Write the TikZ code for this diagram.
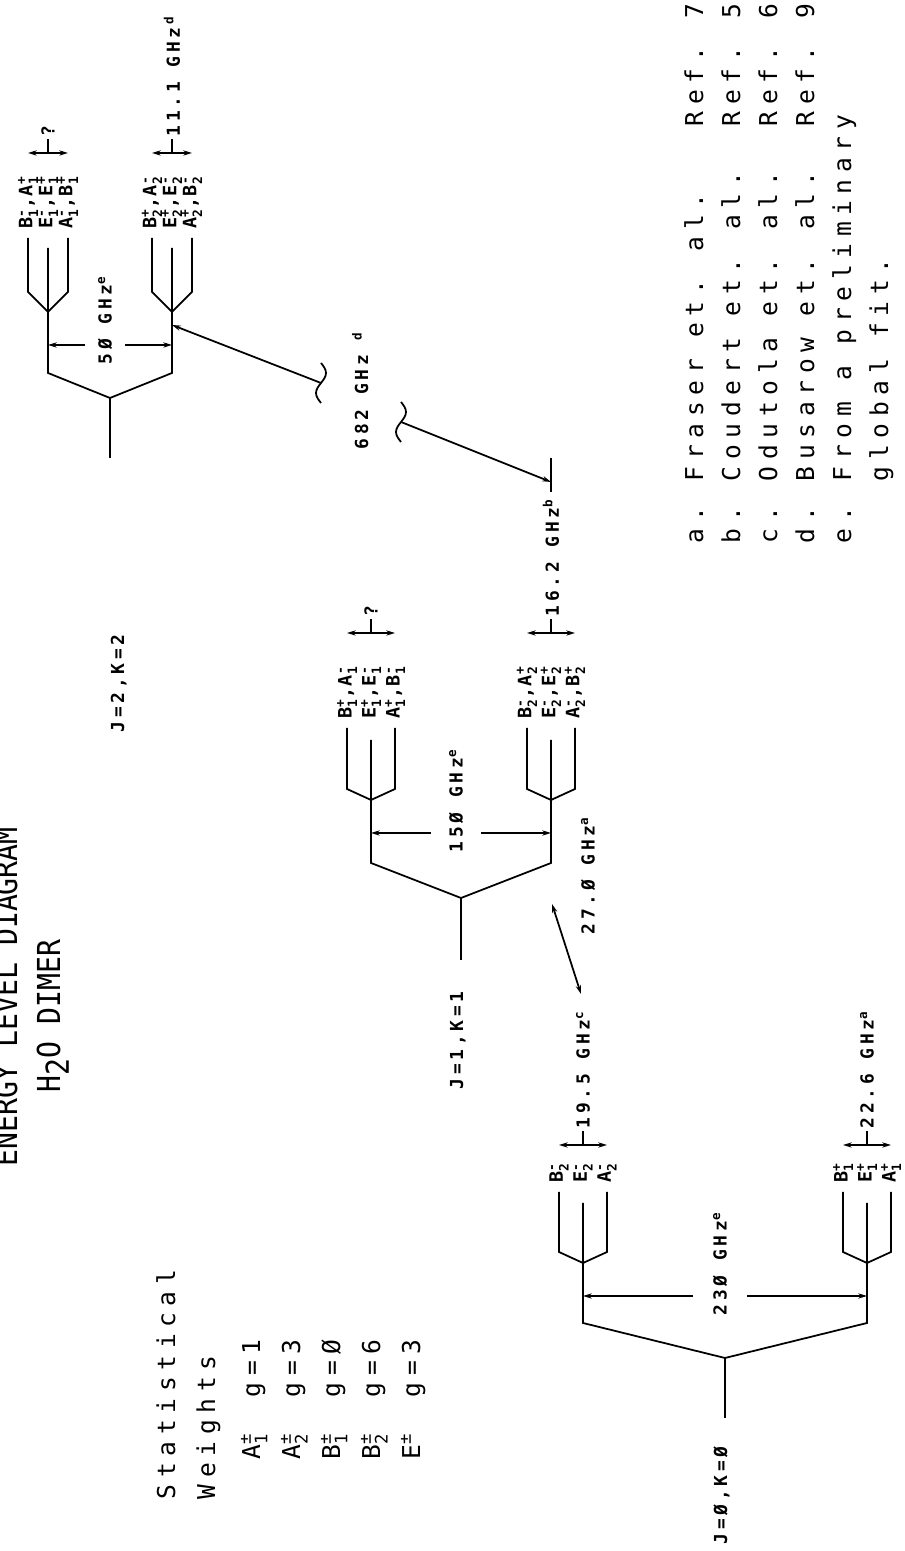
\documentclass[tikz,border=0pt]{standalone}
\usepackage{fontspec}
\usepackage{amsmath}
\usetikzlibrary{arrows.meta}
\newfontfamily\plotfont{DejaVu Sans Mono}
\newcommand\titlefont{\plotfont\fontsize{18}{20}\selectfont}
\newcommand\legfont{\plotfont\fontsize{14}{16}\selectfont\addfontfeatures{LetterSpace=27}}
\newcommand\lvfont{\plotfont\bfseries\fontsize{10.2}{12}\selectfont\addfontfeatures{LetterSpace=21}}
\newcommand\stfont{\plotfont\bfseries\fontsize{10.5}{12}\selectfont\addfontfeatures{LetterSpace=8}}
\newcommand\sy[3]{#1$^{\text{#2}}_{\text{#3}}$}
\tikzset{
  lvtxt/.style={font=\lvfont,inner sep=1pt},
  sttxt/.style={font=\stfont,inner sep=1pt,anchor=west},
  legtxt/.style={font=\legfont,inner sep=0pt,anchor=base west},
  ttl/.style={font=\titlefont,inner sep=0pt,anchor=base west,xscale=0.89}
}
\begin{document}
\begin{tikzpicture}[x=0.2mm,y=0.2mm,>={Stealth[length=5pt,width=3pt]},line width=1pt]
\useasboundingbox (0,0) rectangle (905,1551);
\clip (0,0) rectangle (905,1551);
\begin{scope}[rotate=90,transform shape]
% title and statistical weights
\node[ttl] (title) at (384,-17) {ENERGY LEVEL DIAGRAM};
\node[ttl] (dimer) at (458,-60) {H\raisebox{-5pt}{2}O DIMER};
\node[legtxt] (stat) at (51,-175) {Statistical};
\node[legtxt] (wts) at (51,-215) {Weights};
\foreach \s/\v [count=\i] in {\sy{A}{±}{1}/1,\sy{A}{±}{2}/3,\sy{B}{±}{1}/Ø,\sy{B}{±}{2}/6,\sy{E}{±}{}/3}{
  \node[legtxt] (sym\i) at (91,{-220-40*\i}) {\s};
  \node[legtxt] (gw\i) at (153,{-220-40*\i}) {g=\v};
}
% the three J,K levels with their splittings
\foreach \g/\s/\a/\b/\c/\d/\e/\f/\m/\h/\t/\k/\w/\sa/\bl in {%
  0/133/193/228/288/299/359/348/-725/142/24/255/27/406/23Ø,%
  1/591/653/688/751/762/823/811/-461/90/24/718/25/918/15Ø,%
  2/1093/1153/1178/1239/1259/1313/1303/-110/62/20/1206/20/1398/5Ø}{
  \coordinate (j\g-s) at (\s,\m);
  \coordinate (j\g-a) at (\a,\m);
  \draw (j\g-s) -- (j\g-a);
  \foreach \sd/\sg in {u/1,l/-1}{
    \pgfmathsetmacro\yy{\m+\sg*\h}
    \coordinate (j\g\sd-b) at (\b,\yy);
    \coordinate (j\g\sd-c) at (\c,\yy);
    \coordinate (j\g\sd-f) at (\f,\yy);
    \coordinate (j\g\sd-p) at (\d,{\yy+\t});
    \coordinate (j\g\sd-q) at (\e,{\yy+\t});
    \coordinate (j\g\sd-r) at (\d,{\yy-\t});
    \coordinate (j\g\sd-v) at (\e,{\yy-\t});
    \draw (j\g-a) -- (j\g\sd-b) -- (j\g\sd-c) -- (j\g\sd-f);
    \draw (j\g\sd-q) -- (j\g\sd-p) -- (j\g\sd-c) -- (j\g\sd-r) -- (j\g\sd-v);
    % label anchors
    \coordinate (j\g\sd-la) at (\e+7,{\yy+\t});
    \coordinate (j\g\sd-lb) at (\e+7,\yy);
    \coordinate (j\g\sd-lc) at (\e+7,{\yy-\t});
    % small splitting
    \coordinate (j\g\sd-au) at (\sa,{\yy+\t});
    \coordinate (j\g\sd-al) at (\sa,{\yy-\t});
    \coordinate (j\g\sd-am) at (\sa,\yy);
    \coordinate (j\g\sd-at) at (\sa+14,\yy);
    \draw[<->] (j\g\sd-au) -- (j\g\sd-al);
    \draw (j\g\sd-am) -- (j\g\sd-at);
    % large splitting
    \coordinate (j\g\sd-k) at (\k,\yy);
    \coordinate (j\g\sd-g) at (\k,{\m+5+\sg*\w});
    \draw[->] (j\g\sd-g) -- (j\g\sd-k);
  }
  \node[lvtxt,anchor=west] (j\g-bl) at (\k-22,\m+5) {\bl\ GHz$^{\text{e}}$};
}
\node[lvtxt,anchor=base west] (j0lab) at (4,-727) {J=Ø,K=Ø};
\node[lvtxt,anchor=base west] (j1lab) at (459,-463) {J=1,K=1};
\node[lvtxt,anchor=base west] (j2lab) at (816,-124) {J=2,K=2};
% symmetry labels and splittings
\foreach \n/\la/\lb/\lc/\tx in {%
  j0u/\sy{B}{-}{2}/\sy{E}{-}{2}/\sy{A}{-}{2}/19.5 GHz$^{\text{c}}$,%
  j0l/\sy{B}{+}{1}/\sy{E}{+}{1}/\sy{A}{+}{1}/22.6 GHz$^{\text{a}}$,%
  j1u/{\sy{B}{+}{1},\sy{A}{-}{1}}/{\sy{E}{+}{1},\sy{E}{-}{1}}/{\sy{A}{+}{1},\sy{B}{-}{1}}/?,%
  j1l/{\sy{B}{-}{2},\sy{A}{+}{2}}/{\sy{E}{-}{2},\sy{E}{+}{2}}/{\sy{A}{-}{2},\sy{B}{+}{2}}/16.2 GHz$^{\text{b}}$,%
  j2u/{\sy{B}{-}{1},\sy{A}{+}{1}}/{\sy{E}{-}{1},\sy{E}{+}{1}}/{\sy{A}{-}{1},\sy{B}{+}{1}}/?,%
  j2l/{\sy{B}{+}{2},\sy{A}{-}{2}}/{\sy{E}{+}{2},\sy{E}{-}{2}}/{\sy{A}{+}{2},\sy{B}{-}{2}}/11.1 GHz\,$^{\text{d}}$}{
  \node[sttxt] (\n-A) at (\n-la) {\la};
  \node[sttxt] (\n-B) at (\n-lb) {\lb};
  \node[sttxt] (\n-C) at (\n-lc) {\lc};
  \node[lvtxt,anchor=west] (\n-T) at (\n-at) {\tx};
}
% transitions between levels
\coordinate (a27u) at (647,-552);
\coordinate (a27l) at (557,-581);
\draw[<->] (a27u) -- (a27l);
\node[lvtxt,anchor=west] (f27) at (614,-588) {27.Ø GHz$^{\text{a}}$};
\coordinate (m16a) at (1059,-551);
\coordinate (m16b) at (1093,-551);
\coordinate (tip16) at (1069,-551);
\coordinate (tip50) at (1226,-172);
\coordinate (w1) at (1168,-321);
\coordinate (w2) at (1129,-401);
\draw (m16a) -- (m16b);
\draw[->] (w1) -- (tip50);
\draw[->] (w2) -- (tip16);
\draw[shift={(w1)}] (-20,0) sin (-10,5) cos (0,0) sin (10,-5) cos (20,0);
\draw[shift={(w2)}] (-20,0) sin (-10,5) cos (0,0) sin (10,-5) cos (20,0);
\node[lvtxt,anchor=base west] (f682) at (1099,-368) {682 GHz $^{\text{d}}$};
% references
\foreach \l/\who/\r [count=\i] in {a/Fraser et. al./7,b/Coudert et. al./5,c/Odutola et. al./6,d/Busarow et. al./9}{
  \node[legtxt] (key\l) at (1007,{-666-37*\i}) {\l.};
  \node[legtxt] (who\l) at (1069,{-666-37*\i}) {\who};
  \node[legtxt] (ref\l) at (1424,{-666-37*\i}) {Ref. \r};
}
\node[legtxt] (keye) at (1007,-851) {e.};
\node[legtxt] (whoe) at (1069,-851) {From a preliminary};
\node[legtxt] (whoe2) at (1069,-888) {global fit.};
\end{scope}
\end{tikzpicture}
\end{document}
